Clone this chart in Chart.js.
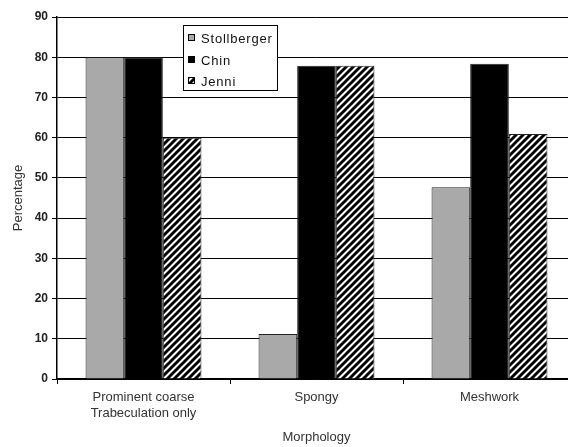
<!DOCTYPE html>
<html>
<head>
<meta charset="utf-8">
<script src="https://cdn.jsdelivr.net/npm/chart.js@4"></script>
<style>
  html, body { margin: 0; padding: 0; background: #fff; overflow: hidden; }
  #wrap { width: 576px; height: 447px; }
</style>
</head>
<body>
<div id="wrap"><canvas id="morphChart" width="576" height="447"></canvas></div>
<script>
// categories and values
const categories = [["Prominent coarse", "Trabeculation only"], "Spongy", "Meshwork"];
const stollberger = [80, 11.2, 47.7];
const chin = [80, 77.9, 78.4];
const jenni = [60, 77.9, 60.9];
const seriesNames = ["Stollberger", "Chin", "Jenni"];

const FONT = '"Liberation Sans", Arial, sans-serif';

// diagonal hatch used for the Jenni bars
function makeHatch() {
  const c = document.createElement('canvas');
  c.width = 7; c.height = 7;
  const g = c.getContext('2d');
  g.fillStyle = '#fff';
  g.fillRect(0, 0, 7, 7);
  g.strokeStyle = '#000';
  g.lineWidth = 2.9;
  g.beginPath();
  g.moveTo(-1, 8); g.lineTo(8, -1);
  g.moveTo(-2, 2); g.lineTo(2, -2);
  g.moveTo(5, 9); g.lineTo(9, 5);
  g.stroke();
  return g.createPattern(c, 'repeat');
}
const hatch = makeHatch();

// legend box sits inside the plot, drawn by hand
const boxLegend = {
  id: 'boxLegend',
  afterDraw(chart) {
    const ctx = chart.ctx;
    ctx.save();
    ctx.fillStyle = '#fff';
    ctx.fillRect(183, 25, 94, 65);
    ctx.strokeStyle = '#000';
    ctx.lineWidth = 1;
    ctx.strokeRect(183.5, 25.5, 94, 65);
    const rows = [38, 60, 81];
    ctx.font = '13px ' + FONT;
    ctx.letterSpacing = '0.8px';
    ctx.textBaseline = 'middle';
    chart.data.datasets.forEach((ds, i) => {
      ctx.fillStyle = ds.backgroundColor;
      ctx.fillRect(188, rows[i] - 4, 7, 7);
      ctx.strokeStyle = '#000';
      ctx.strokeRect(188.5, rows[i] - 3.5, 6, 6);
      ctx.fillStyle = '#111';
      ctx.fillText(ds.label, 201, rows[i] + 1);
    });
    ctx.restore();
  }
};

new Chart(document.getElementById('morphChart').getContext('2d'), {
  type: 'bar',
  data: {
    labels: categories,
    datasets: [
      { label: seriesNames[0], data: stollberger, backgroundColor: '#a9a9a9' },
      { label: seriesNames[1], data: chin, backgroundColor: '#000' },
      { label: seriesNames[2], data: jenni, backgroundColor: hatch }
    ]
  },
  options: {
    responsive: false,
    animation: false,
    layout: { padding: { top: 17, right: 0, bottom: 0, left: 0 } },
    datasets: {
      bar: {
        borderColor: '#222',
        borderWidth: 1,
        barPercentage: 1,
        categoryPercentage: 0.67
      }
    },
    plugins: {
      legend: { display: false },
      tooltip: { enabled: false }
    },
    scales: {
      x: {
        afterFit(s) { s.height = 68; },
        grid: { drawOnChartArea: false, color: '#000', tickLength: 5, offset: true },
        border: { color: '#000', width: 1.5 },
        ticks: { color: '#333', font: { family: FONT, size: 13 }, padding: 6 },
        title: {
          display: true, text: 'Morphology', color: '#333',
          font: { family: FONT, size: 13 },
          padding: { top: 8, bottom: 2 }
        }
      },
      y: {
        min: 0, max: 90,
        afterFit(s) { s.width = 57; },
        grid: { color: '#000', lineWidth: 1, tickLength: 5 },
        border: { color: '#000', width: 1.5 },
        ticks: {
          stepSize: 10, color: '#222', padding: 4,
          font: { family: FONT, size: 12, weight: 'bold' }
        },
        title: {
          display: true, text: 'Percentage', color: '#333',
          font: { family: FONT, size: 13 },
          padding: { top: 11, bottom: 0 }
        }
      }
    }
  },
  plugins: [boxLegend]
});
</script>
</body>
</html>
